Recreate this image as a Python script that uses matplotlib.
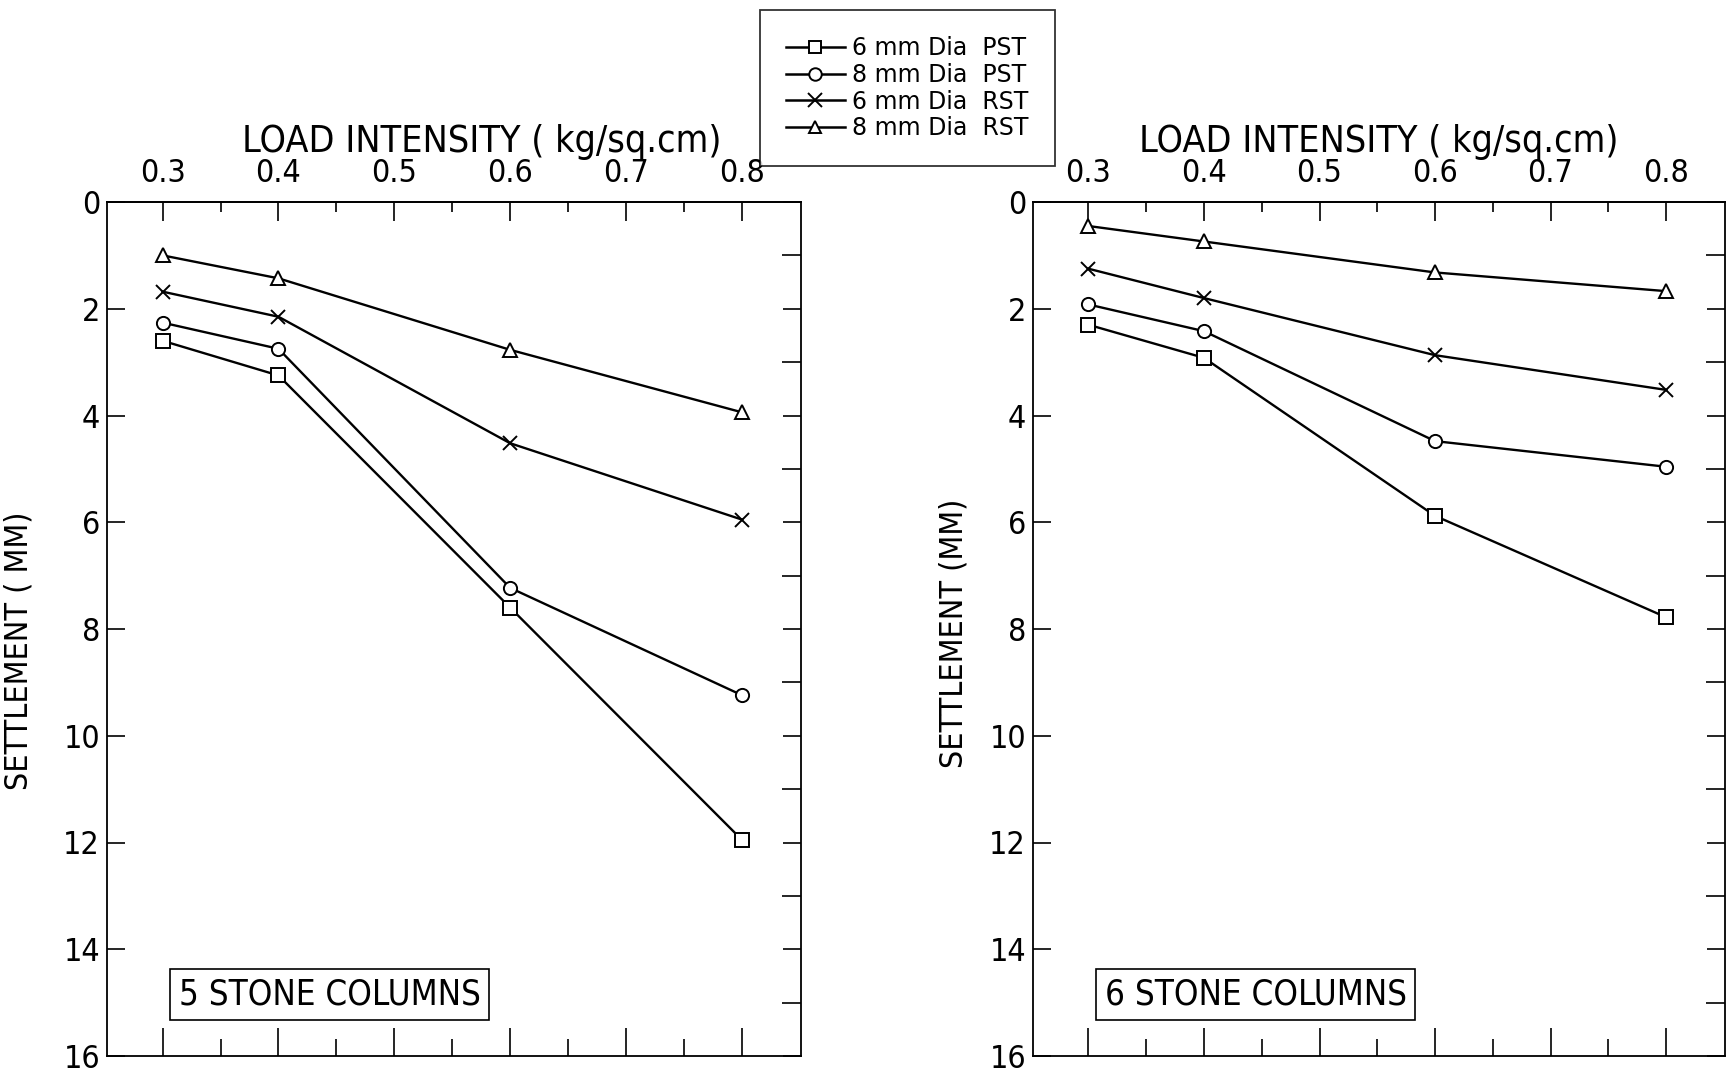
import matplotlib
matplotlib.use("Agg")
import matplotlib.pyplot as plt
from matplotlib.ticker import MultipleLocator, FixedLocator, FormatStrFormatter
from matplotlib.lines import Line2D

plt.rcParams['font.family'] = ['DejaVu Sans']
plt.rcParams['font.stretch'] = 'condensed'

load = [0.3, 0.4, 0.6, 0.8]
x_ticks = [0.3, 0.4, 0.5, 0.6, 0.7, 0.8]
y_ticks = [0, 2, 4, 6, 8, 10, 12, 14, 16]

series_names = ["6 mm Dia  PST", "8 mm Dia  PST", "6 mm Dia  RST", "8 mm Dia  RST"]

# 5 stone columns
five_pst6 = [2.60, 3.25, 7.60, 11.95]
five_pst8 = [2.26, 2.75, 7.23, 9.24]
five_rst6 = [1.68, 2.15, 4.52, 5.95]
five_rst8 = [1.00, 1.43, 2.77, 3.94]

# 6 stone columns
six_pst6 = [2.30, 2.92, 5.88, 7.78]
six_pst8 = [1.92, 2.42, 4.48, 4.96]
six_rst6 = [1.25, 1.80, 2.87, 3.52]
six_rst8 = [0.45, 0.74, 1.32, 1.67]

panel_titles = ["5 STONE COLUMNS", "6 STONE COLUMNS"]
y_labels = ["SETTLEMENT ( MM)", "SETTLEMENT (MM)"]
x_label = "LOAD INTENSITY ( kg/sq.cm)"

markers = ['s', 'o', 'x', '^']

W, H = 1728, 1074
fig = plt.figure(figsize=(W / 100, H / 100), dpi=100)

def frac(x0, x1, y0, y1):
    return [x0 / W, 1 - y1 / H, (x1 - x0) / W, (y1 - y0) / H]

axes_boxes = [frac(107, 801, 202, 1056), frac(1033, 1725, 202, 1056)]
datasets = [[five_pst6, five_pst8, five_rst6, five_rst8],
            [six_pst6, six_pst8, six_rst6, six_rst8]]
ylabel_x = [-0.105, -0.092]
ylabel_y = [0.475, 0.495]
xlabel_x = [0.54, 0.5]

for i in range(2):
    ax = fig.add_axes(axes_boxes[i])
    for s, m in zip(datasets[i], markers):
        ms = 10 if m == 'x' else 9.5
        ax.plot(load, s, color='black', lw=1.7, marker=m, ms=ms,
                mfc='white', mec='black', mew=1.4)
    ax.set_xlim(0.252, 0.851)
    ax.set_ylim(16, 0)
    for sp in ax.spines.values():
        sp.set_linewidth(1.3)

    # bottom ticks (no labels)
    ax.xaxis.set_major_locator(FixedLocator(x_ticks))
    ax.xaxis.set_minor_locator(FixedLocator([0.35, 0.45, 0.55, 0.65, 0.75]))
    ax.tick_params(axis='x', which='major', direction='in', length=20, width=1.2,
                   bottom=True, top=False, labelbottom=False)
    ax.tick_params(axis='x', which='minor', direction='in', length=12, width=1.2,
                   bottom=True, top=False)

    # y ticks
    ax.yaxis.set_major_locator(FixedLocator(y_ticks))
    ax.yaxis.set_minor_locator(MultipleLocator(1))
    ax.tick_params(axis='y', which='major', direction='in', length=13, width=1.2,
                   left=True, right=True, labelsize=23, pad=5)
    ax.tick_params(axis='y', which='minor', direction='in', length=14, width=1.2,
                   left=False, right=True)
    ax.set_ylabel(y_labels[i], fontsize=23)
    ax.yaxis.set_label_coords(ylabel_x[i], ylabel_y[i])

    # top axis with labels
    sec = ax.secondary_xaxis('top')
    sec.xaxis.set_major_locator(FixedLocator(x_ticks))
    sec.xaxis.set_minor_locator(FixedLocator([0.35, 0.45, 0.55, 0.65, 0.75]))
    sec.xaxis.set_major_formatter(FormatStrFormatter('%.1f'))
    sec.tick_params(axis='x', which='major', direction='in', length=14, width=1.2,
                    labelsize=23, pad=9)
    sec.tick_params(axis='x', which='minor', direction='in', length=7, width=1.2)
    sec.spines['top'].set_linewidth(1.3)
    sec.set_xlabel(x_label, fontsize=27)
    sec.xaxis.set_label_coords(xlabel_x[i], 1.058, transform=ax.transAxes)

    ax.text(0.314, 14.85, panel_titles[i], fontsize=25, ha='left', va='center',
            bbox=dict(boxstyle='square,pad=0.25', fc='white', ec='black', lw=1.2))

handles = [Line2D([], [], color='black', lw=1.8, marker=m,
                  ms=(10 if m == 'x' else 9), mfc='white', mec='black', mew=1.4)
           for m in markers]
leg = fig.legend(handles, series_names, loc='upper left',
                 bbox_to_anchor=(760 / W, 1 - 10 / H),
                 prop={'size': 17, 'stretch': 'normal'},
                 frameon=True, fancybox=False, edgecolor='black',
                 handlelength=2.5, handletextpad=0.3, labelspacing=0.12,
                 borderpad=1.1, borderaxespad=0)
leg.get_frame().set_linewidth(1.3)

fig.savefig("out.png", dpi=100)
